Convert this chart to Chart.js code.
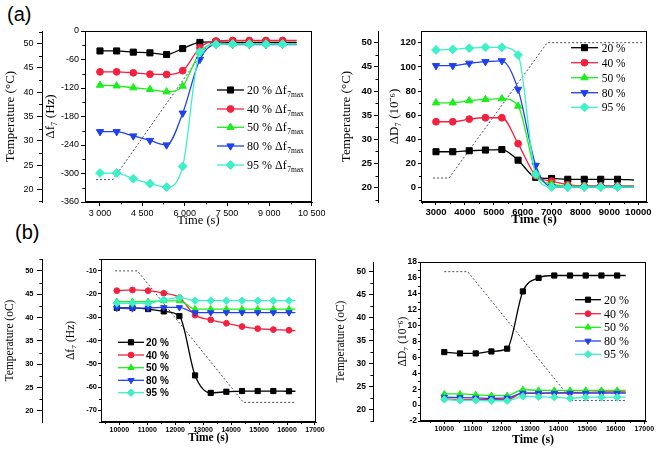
<!DOCTYPE html>
<html><head><meta charset="utf-8">
<script src="https://cdn.jsdelivr.net/npm/chart.js@4.4.1/dist/chart.umd.min.js"></script>
<style>
body{margin:0;background:#fff;width:661px;height:449px;overflow:hidden;position:relative}
canvas{position:absolute;left:0;top:0}
.lab{position:absolute;font:20px "Liberation Sans",Arial,sans-serif;color:#000;line-height:1}
</style></head><body>
<div class="lab" style="left:7px;top:4px">(a)</div>
<div class="lab" style="left:15px;top:222px">(b)</div>
<canvas id="cA1" width="661" height="449"></canvas>
<canvas id="cA2" width="661" height="449"></canvas>
<canvas id="cB1" width="661" height="449"></canvas>
<canvas id="cB2" width="661" height="449"></canvas>
<script>
// ---------- shared ----------
const seriesLabels = ['20 %', '40 %', '50 %', '80 %', '95 %'];
const tempTicks = [20, 25, 30, 35, 40, 45, 50];

// ---------- panel (a) left : Δf7 ----------
const timeA1 = [3000, 3590, 4180, 4770, 5360, 5930, 6540, 7110, 7700, 8290, 8880, 9470, 9970];
const dfA1_20 = [-42, -42, -44.5, -46, -49.5, -37, -24, -23, -24, -24, -24, -24, -24];
const dfA1_40 = [-86, -86, -88, -91, -91.5, -83.5, -35, -21, -20, -20, -20, -20, -20];
const dfA1_50 = [-114, -115.5, -119.5, -123, -128, -116, -45, -27, -27, -27, -27, -27, -27];
const dfA1_80 = [-212, -212, -221, -230.5, -240, -173, -60, -28, -28.5, -28.5, -28.5, -28.5, -28.5];
const dfA1_95 = [-299, -299, -311, -321.5, -328.5, -285, -44, -28, -27.5, -27.5, -27.5, -27.5, -27.5];
const tempTimeA1 = [2860, 3460, 6850, 9970];
const tempA1 = [22, 22, 50, 50];
const xTicksA1 = [3000, 4500, 6000, 7500, 9000, 10500];
const xTickLabelsA1 = ['3 000', '4 500', '6 000', '7 500', '9 000', '10 500'];
const dfTicksA1 = [-360, -300, -240, -180, -120, -60, 0];

// ---------- panel (a) right : ΔD7 ----------
const timeA2 = [3000, 3580, 4150, 4710, 5280, 5840, 6450, 7000, 7560, 8130, 8700, 9280, 9850];
const dA2_20 = [29.8, 29.8, 30.6, 31.2, 31.6, 22.8, 8.6, 7.7, 7, 7, 7, 7, 6.4];
const dA2_40 = [54.6, 54.6, 56.8, 57.9, 57.9, 36.5, 10, 5.5, 2.5, 1.5, 1.5, 1.5, 1.5];
const dA2_50 = [70.3, 70.3, 72, 73.1, 73.7, 67.6, 13, 3, 1.5, 1.2, 1.2, 1.2, 1.2];
const dA2_80 = [101, 101, 103, 104.3, 105, 81.4, 18.5, 0.8, 0.5, 0.5, 0.5, 0.5, 0.5];
const dA2_95 = [114, 114.5, 115.5, 116.2, 116.2, 109.8, 11, 0.6, 0.5, 0.5, 0.5, 0.5, 0.5];
const tempTimeA2 = [2900, 3450, 6850, 10190];
const tempA2 = [22, 22, 50, 50];
const xTicksA2 = [3000, 4000, 5000, 6000, 7000, 8000, 9000, 10000];
const dTicksA2 = [0, 20, 40, 60, 80, 100, 120];

// ---------- panel (b) left : Δf7 ----------
const timeB1 = [9910, 10470, 11030, 11590, 12150, 12710, 13270, 13830, 14390, 14950, 15510, 16070, 16300];
const dfB1_20 = [-26, -26, -26.5, -27.5, -29.5, -55, -62.5, -62, -61.7, -61.7, -61.7, -61.8, -61.8];
const dfB1_40 = [-18.6, -18.3, -18.6, -19.7, -21.6, -29.1, -31.1, -32.6, -34, -34.9, -35.3, -35.6, -35.8];
const dfB1_50 = [-23.3, -23.3, -23.3, -23, -23, -26.5, -26.5, -26.5, -26.5, -26.5, -26.5, -26.5, -26.5];
const dfB1_80 = [-26.1, -26.3, -26, -25.8, -25.8, -28, -28, -28, -28, -28, -28, -28, -28];
const dfB1_95 = [-24, -24, -24, -22.5, -21.6, -22.9, -22.9, -22.9, -22.9, -22.9, -22.9, -22.9, -22.9];
const tempTimeB1 = [9850, 10650, 14440, 16320];
const tempB1 = [50, 50, 21.8, 21.8];
const xTicksB = [10000, 11000, 12000, 13000, 14000, 15000, 16000, 17000];
const dfTicksB1 = [-70, -60, -50, -40, -30, -20, -10];

// ---------- panel (b) right : ΔD7 ----------
const timeB2 = [10000, 10550, 11100, 11650, 12200, 12750, 13300, 13850, 14400, 14950, 15500, 16050, 16350];
const dB2_20 = [6.67, 6.5, 6.5, 6.75, 7.1, 14.3, 16.0, 16.3, 16.3, 16.3, 16.3, 16.3, 16.3];
const dB2_40 = [0.8, 0.7, 0.7, 0.7, 0.7, 1.5, 1.5, 1.55, 1.6, 1.6, 1.65, 1.65, 1.65];
const dB2_50 = [1.4, 1.4, 1.3, 1.2, 1.2, 1.95, 1.85, 1.85, 1.85, 1.85, 1.85, 1.85, 1.85];
const dB2_80 = [1.0, 0.95, 0.9, 0.85, 0.9, 1.5, 1.5, 1.5, 1.5, 1.5, 1.5, 1.5, 1.5];
const dB2_95 = [0.72, 0.6, 0.6, 0.55, 0.55, 1.1, 1.05, 1.0, 0.85, 1.0, 1.0, 1.0, 1.0];
const tempTimeB2 = [10000, 10820, 14480, 16360];
const tempB2 = [50, 50, 21.9, 21.9];
const dTicksB2 = [-2, 0, 2, 4, 6, 8, 10, 12, 14, 16, 18];

// ---------- styling ----------
const colors = ['#000000', '#f5203e', '#1aef1a', '#2040f0', '#3cf0c8'];
const styles = ['rect', 'circle', 'triangle', 'triangle', 'rectRot'];
const rots = [0, 0, 0, 180, 0];
const radii = [4.3, 3.4, 4.2, 4.2, 4.4];
const SANS = 'Liberation Sans', SERIF = 'Liberation Serif';

function drawMarker(ctx, style, x, y, r, rot, color) {
  ctx.save();
  ctx.fillStyle = color; ctx.strokeStyle = color; ctx.lineWidth = 1;
  ctx.beginPath();
  if (style === 'rect') { const s = r * Math.SQRT1_2; ctx.rect(x - s, y - s, 2 * s, 2 * s); }
  else if (style === 'circle') { ctx.arc(x, y, r, 0, Math.PI * 2); }
  else if (style === 'rectRot') { ctx.moveTo(x, y - r); ctx.lineTo(x + r, y); ctx.lineTo(x, y + r); ctx.lineTo(x - r, y); ctx.closePath(); }
  else { let a = rot * Math.PI / 180;
    for (let k = 0; k < 3; k++) { const px = x + Math.sin(a) * r, py = y - Math.cos(a) * r; k ? ctx.lineTo(px, py) : ctx.moveTo(px, py); a += 2 * Math.PI / 3; }
    ctx.closePath(); }
  ctx.fill(); ctx.stroke(); ctx.restore();
}

const framePlugin = {
  id: 'frame',
  afterDraw(chart) {
    const {ctx, chartArea: a} = chart;
    ctx.save(); ctx.strokeStyle = '#000'; ctx.lineWidth = 1;
    ctx.strokeRect(Math.round(a.left) + 0.5, Math.round(a.top) + 0.5, Math.round(a.right - a.left) - 1, Math.round(a.bottom - a.top) - 1);
    ctx.restore();
  }
};

const minorPlugin = {
  id: 'minorTicks',
  afterDraw(chart, args, o) {
    const ctx = chart.ctx; ctx.save(); ctx.strokeStyle = '#000'; ctx.lineWidth = 1;
    for (const id of ['x', 'temp', 'inner']) {
      const sc = chart.scales[id]; if (!sc) continue;
      const vals = sc.ticks.map(t => t.value); if (vals.length < 2) continue;
      const step = vals[1] - vals[0], len = (o.len && o.len[id]) || 2.5;
      for (let k = -1; k < vals.length; k++) {
        const v = vals[0] + step * (k + 0.5);
        if (v < Math.min(sc.min, sc.max) || v > Math.max(sc.min, sc.max)) continue;
        const p = Math.round(sc.getPixelForValue(v)) + 0.5;
        ctx.beginPath();
        if (sc.isHorizontal()) { ctx.moveTo(p, sc.top); ctx.lineTo(p, sc.top + len); }
        else { ctx.moveTo(sc.right - len, p); ctx.lineTo(sc.right, p); }
        ctx.stroke();
      }
    }
    ctx.restore();
  }
};

const legendPlugin = {
  id: 'boxLegend',
  afterDraw(chart, args, o) {
    if (!o || !o.ys) return;
    const ctx = chart.ctx;
    const sets = chart.data.datasets.filter(d => d.isSeries);
    sets.forEach((ds, i) => {
      const y = o.ys[i];
      ctx.save();
      ctx.strokeStyle = ds.borderColor; ctx.lineWidth = 1.3;
      ctx.beginPath(); ctx.moveTo(o.x0, y); ctx.lineTo(o.x1, y); ctx.stroke();
      drawMarker(ctx, ds.pointStyle, (o.x0 + o.x1) / 2, y, ds.markerR * (o.mk || 1), ds.pointRotation, ds.borderColor);
      ctx.fillStyle = '#000'; ctx.font = o.font; ctx.textBaseline = 'alphabetic'; ctx.textAlign = 'left';
      ctx.fillText(ds.label, o.tx, y + o.dy);
      if (o.sub) { const w = ctx.measureText(ds.label).width; ctx.font = o.subFont; ctx.fillText(o.sub, o.tx + w + 0.5, y + o.dy + o.subDy); }
      ctx.restore();
    });
  }
};

function axisY(P) {
  return {
    type: 'linear', position: 'left', weight: P.weight, min: P.min, max: P.max,
    afterBuildTicks: ax => { ax.ticks = P.ticks.map(v => ({value: v})); },
    afterFit: ax => { ax.width = P.width; },
    ticks: { font: P.font, color: '#000', padding: P.pad, autoSkip: false, callback: v => String(v) },
    grid: { drawOnChartArea: false, drawTicks: true, tickLength: P.tl, color: '#000', tickColor: '#000', tickWidth: 1 },
    border: { display: true, color: '#000', width: 1 },
    title: { display: true, text: P.title, color: '#000', font: P.tfont, padding: {top: P.tpad, bottom: 0} }
  };
}

function build(id, P) {
  const datasets = [{
    label: 'T', data: P.tT.map((t, i) => ({x: t, y: P.tV[i]})), yAxisID: 'temp',
    borderColor: '#44506a', borderWidth: 1, borderDash: [2, 2], pointRadius: 0, tension: 0, order: 10, fill: false
  }];
  P.series.forEach((s, i) => {
    const n = P.time.length;
    datasets.push({
      label: seriesLabels[i] + (P.suffix || ''), isSeries: true,
      data: P.time.map((t, j) => ({x: t, y: s[j]})), yAxisID: 'inner',
      borderColor: colors[i], backgroundColor: colors[i], pointBackgroundColor: colors[i], pointBorderColor: colors[i],
      borderWidth: 1.3, pointStyle: styles[i], pointRotation: rots[i],
      pointRadius: P.time.map((t, j) => j < n - 1 ? radii[i] * P.mk : 0), markerR: radii[i],
      pointBorderWidth: 1, cubicInterpolationMode: 'monotone', order: 5 - i, fill: false
    });
  });
  new Chart(document.getElementById(id), {
    type: 'line',
    data: { datasets },
    options: {
      responsive: false, animation: false, devicePixelRatio: 1, events: [],
      layout: { padding: P.layout },
      plugins: { legend: {display: false}, tooltip: {enabled: false}, boxLegend: P.legend, minorTicks: {len: P.minorLen} },
      scales: {
        x: {
          type: 'linear', position: 'bottom', min: P.xmin, max: P.xmax,
          afterBuildTicks: ax => { ax.ticks = P.xTicks.map(v => ({value: v})); },
          afterFit: ax => { ax.height = P.xH; },
          ticks: { font: P.xfont, color: '#000', padding: P.xpad, autoSkip: false, maxRotation: 0, minRotation: 0,
                   callback: (v, i) => P.xLabels ? P.xLabels[i] : String(v) },
          grid: { drawOnChartArea: false, drawTicks: true, tickLength: P.xtl, color: '#000', tickColor: '#000' },
          border: { display: true, color: '#000', width: 1 },
          title: { display: true, text: 'Time (s)', color: '#000', font: P.xtfont, padding: {top: 0, bottom: P.xtpad} }
        },
        temp: axisY(P.temp),
        inner: axisY(P.inner)
      }
    },
    plugins: [framePlugin, minorPlugin, legendPlugin]
  });
}

// ---- (a) left
build('cA1', {
  time: timeA1, series: [dfA1_20, dfA1_40, dfA1_50, dfA1_80, dfA1_95], tT: tempTimeA1, tV: tempA1, mk: 1, suffix: ' Δf',
  layout: {left: 2, top: 31, right: 349, bottom: 217},
  xmin: 2469, xmax: 10511, xTicks: xTicksA1, xLabels: xTickLabelsA1, xH: 30, xtl: 4, xpad: 2,
  xfont: {family: SANS, size: 9}, xtfont: {family: SERIF, size: 12.5}, xtpad: 3.6,
  temp: {weight: 2, min: 17.38, max: 52.62, ticks: tempTicks, width: 40, pad: 3.5, tl: 5, font: {family: SANS, size: 9},
         title: 'Temperature (°C)', tfont: {family: SERIF, size: 13}, tpad: 1},
  inner: {weight: 1, min: -360, max: 0, ticks: dfTicksA1, width: 43, pad: 2, tl: 4, font: {family: SANS, size: 9},
          title: 'Δf₇ (Hz)', tfont: {family: SERIF, size: 13}, tpad: 0.9},
  minorLen: {x: 2.5, temp: 3, inner: 2.5},
  legend: {x0: 217, x1: 244, tx: 247, dy: 4, ys: [90, 109, 127.3, 146, 165], font: '12px "Liberation Serif"', sub: '7max', subFont: '7.5px "Liberation Serif"', subDy: 3}
});

// ---- (a) right
build('cA2', {
  time: timeA2, series: [dA2_20, dA2_40, dA2_50, dA2_80, dA2_95], tT: tempTimeA2, tV: tempA2, mk: 1,
  layout: {left: 339, top: 31, right: 14, bottom: 217},
  xmin: 2481, xmax: 10301, xTicks: xTicksA2, xH: 30, xtl: 3, xpad: 2,
  xfont: {family: SANS, size: 9.5, weight: 'bold'}, xtfont: {family: SERIF, size: 13, weight: 'bold'}, xtpad: 4.4,
  temp: {weight: 2, min: 17.04, max: 52.42, ticks: tempTicks, width: 39, pad: 2, tl: 4, font: {family: SANS, size: 9.5, weight: 'bold'},
         title: 'Temperature (°C)', tfont: {family: SERIF, size: 13}, tpad: 0},
  inner: {weight: 1, min: -11.8, max: 129.7, ticks: dTicksA2, width: 43, pad: 2, tl: 3, font: {family: SANS, size: 9.5, weight: 'bold'},
          title: 'ΔD₇ (10⁻⁶)', tfont: {family: SERIF, size: 13}, tpad: 9.2},
  minorLen: {x: 2, temp: 2.5, inner: 2},
  legend: {x0: 571, x1: 598, tx: 601.7, dy: 4, ys: [47.7, 62.7, 77.7, 92.7, 107.3], font: '11.5px "Liberation Serif"'}
});

// ---- (b) left
build('cB1', {
  time: timeB1, series: [dfB1_20, dfB1_40, dfB1_50, dfB1_80, dfB1_95], tT: tempTimeB1, tV: tempB1, mk: 0.85,
  layout: {left: 2, top: 259, right: 345, bottom: 1},
  xmin: 9345, xmax: 17036, xTicks: xTicksB, xH: 26, xtl: 3, xpad: 1,
  xfont: {family: SANS, size: 7, weight: 'bold'}, xtfont: {family: SERIF, size: 11.5, weight: 'bold'}, xtpad: 3.2,
  temp: {weight: 2, min: 17.6, max: 52.55, ticks: tempTicks, width: 40, pad: 3.5, tl: 5, font: {family: SANS, size: 7.5, weight: 'bold'},
         title: 'Temperature (oC)', tfont: {family: SERIF, size: 11.5}, tpad: 1.2},
  inner: {weight: 1, min: -75, max: -5, ticks: dfTicksB1, width: 59, pad: 1, tl: 3, font: {family: SANS, size: 7.5, weight: 'bold'},
          title: 'Δf₇ (Hz)', tfont: {family: SERIF, size: 11.5}, tpad: 21.7},
  minorLen: {x: 2, temp: 2.5, inner: 2},
  legend: {x0: 118, x1: 144, tx: 146, dy: 3.5, mk: 0.85, ys: [342.3, 355, 367.7, 380.3, 392.7], font: 'bold 10px "Liberation Sans"'}
});

// ---- (b) right
build('cB2', {
  time: timeB2, series: [dB2_20, dB2_40, dB2_50, dB2_80, dB2_95], tT: tempTimeB2, tV: tempB2, mk: 0.85,
  layout: {left: 334, top: 262, right: 15, bottom: 1},
  xmin: 9150, xmax: 17060, xTicks: xTicksB, xH: 27, xtl: 3, xpad: 1,
  xfont: {family: SANS, size: 7, weight: 'bold'}, xtfont: {family: SERIF, size: 12, weight: 'bold'}, xtpad: 1.3,
  temp: {weight: 2, min: 17.45, max: 52.11, ticks: tempTicks, width: 39, pad: 3, tl: 4, font: {family: SANS, size: 8.5, weight: 'bold'},
         title: 'Temperature (oC)', tfont: {family: SERIF, size: 11.5}, tpad: 0.4},
  inner: {weight: 1, min: -2, max: 18, ticks: dTicksB2, width: 47, pad: 1, tl: 2, font: {family: SANS, size: 8.5, weight: 'bold'},
          title: 'ΔD₇ (10⁻⁶)', tfont: {family: SERIF, size: 11.5}, tpad: 22.7},
  minorLen: {x: 2, temp: 2.5, inner: 2},
  legend: {x0: 575, x1: 601, tx: 604, dy: 4, mk: 0.85, ys: [299.7, 313.7, 327.3, 341, 354.3], font: '12px "Liberation Serif"'}
});
</script>
</body></html>
